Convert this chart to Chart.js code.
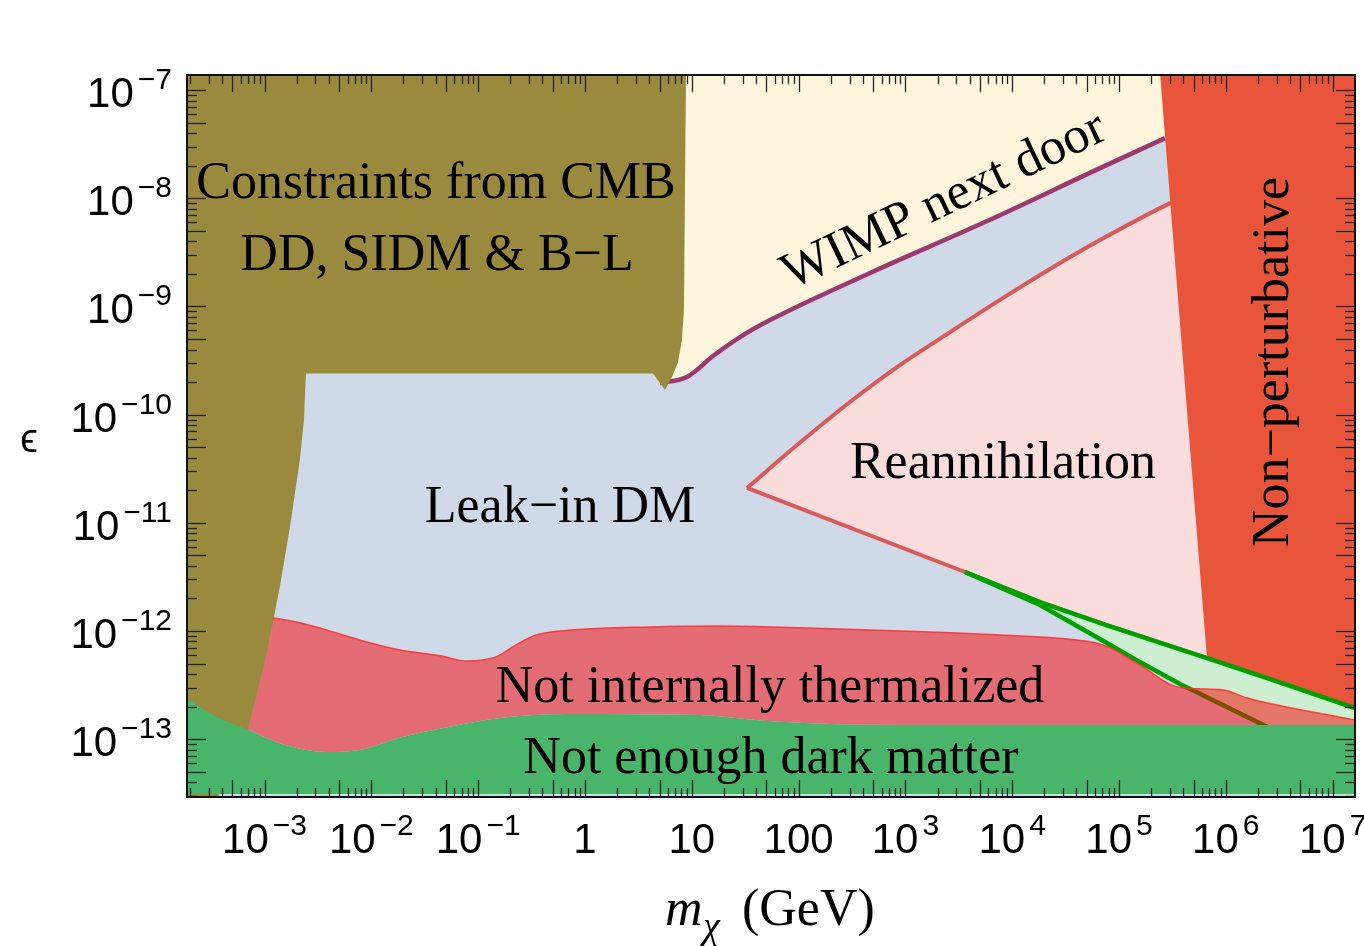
<!DOCTYPE html>
<html>
<head>
<meta charset="utf-8">
<title>Leak-in dark matter parameter space</title>
<script src="https://cdn.jsdelivr.net/npm/chart.js@4.4.1/dist/chart.umd.min.js"></script>
<style>
  html, body { margin: 0; padding: 0; background: #fff; }
  canvas { display: block; }
</style>
</head>
<body>
<canvas id="regionChart" width="1364" height="946"></canvas>
<script>
"use strict";

// axis range: m_chi in GeV, epsilon
const X_MIN = 1.88e-4;
const X_MAX = 1.62e7;
const Y_MIN = 2.92e-14;
const Y_MAX = 1.38e-7;

const xTickValues = [1e-3, 1e-2, 1e-1, 1, 10, 100, 1e3, 1e4, 1e5, 1e6, 1e7];
const xTickBase = ["10", "10", "10", "1", "10", "100", "10", "10", "10", "10", "10"];
const xTickExp = ["−3", "−2", "−1", "", "", "", "3", "4", "5", "6", "7"];

const yTickValues = [1e-13, 1e-12, 1e-11, 1e-10, 1e-9, 1e-8, 1e-7];
const yTickBase = ["10", "10", "10", "10", "10", "10", "10"];
const yTickExp = ["−13", "−12", "−11", "−10", "−9", "−8", "−7"];

// WIMP next door line
const wimpMass = [5.04, 9.02, 15.8, 28.3, 54.0, 467, 5560, 6.64e4, 2.7e5];
const wimpEps = [1.96e-10, 2.23e-10, 3.48e-10, 5.21e-10, 7.48e-10, 2.04e-9, 6.03e-9, 1.9e-8, 3.6e-8];
// where the line runs on under the CMB region (left) and the non-perturbative one (right)
const wimpHiddenLeftMass = [1.88e-4, 4.3];
const wimpHiddenLeftEps = [3.0e-10, 3.0e-10];
const wimpHiddenRightEps = 2.3e-7;

// constraints from CMB, DD, SIDM & B-L (lower / right edge of the region)
const cmbMass = [1.88e-4, 3.58e-4, 4.95e-4, 7.0e-4, 9.66e-4, 1.22e-3, 1.39e-3, 1.73e-3, 2.14e-3, 2.34e-3, 2.44e-3, 4.34, 5.61, 6.53, 7.43, 8.09, 8.45, 8.83];
const cmbEps = [2.74e-14, 2.74e-14, 5.78e-14, 1.22e-13, 4.37e-13, 1.32e-12, 2.55e-12, 9.14e-12, 3.8e-11, 8.91e-11, 2.4e-10, 2.4e-10, 1.69e-10, 2.23e-10, 3.06e-10, 4.89e-10, 9.27e-10, 1.44e-7];

// not enough dark matter (upper edge)
const dmMass = [1.88e-4, 3.44e-4, 7.0e-4, 1.55e-3, 3.84e-3, 7.82e-3, 1.85e-2, 5.45e-2, 0.16, 0.678, 11.9, 50.6, 197, 889, 1.62e7];
const dmEps = [2.36e-13, 1.64e-13, 1.22e-13, 8.83e-14, 7.62e-14, 7.94e-14, 1.03e-13, 1.3e-13, 1.57e-13, 1.71e-13, 1.67e-13, 1.47e-13, 1.38e-13, 1.35e-13, 1.35e-13];
const DM_FLOOR = 3.12e-14;

// not internally thermalized (upper edge)
const thermMass = [5.89e-4, 1.22e-3, 2.14e-3, 4.37e-3, 9.09e-3, 1.85e-2, 4.39e-2, 7.6e-2, 0.147, 0.226, 0.348, 0.751, 4.06, 18.4, 103, 889, 7690, 3.26e4, 6.64e4, 8.79e4, 1.57e5, 3.72e5, 9.42e5, 1.58e6, 1.62e7];
const thermEps = [1.41e-12, 1.32e-12, 1.19e-12, 9.79e-13, 7.91e-13, 6.67e-13, 5.9e-13, 5.28e-13, 5.75e-13, 7.45e-13, 9.2e-13, 1.02e-12, 1.09e-12, 1.11e-12, 1.07e-12, 1.0e-12, 9.18e-13, 8.43e-13, 7.59e-13, 6.8e-13, 4.85e-13, 3.0e-13, 2.85e-13, 2.4e-13, 1.5e-13];

// reannihilation: upper curve and lower line from the tip
const reannUpMass = [32.9, 110, 303, 889, 2618, 7690, 2.26e4, 6.64e4, 3.01e5, 1.62e7];
const reannUpEps = [2.1e-11, 5.82e-11, 1.31e-10, 2.87e-10, 5.79e-10, 1.15e-9, 2.22e-9, 4.11e-9, 9.03e-9, 5.28e-8];
const reannLowMass = [32.9, 3614];
const reannLowEps = [2.1e-11, 3.51e-12];

// the two green lines
const greenUpMass = [3614, 1.82e4, 7.72e4, 6.67e5, 2.77e6, 1.62e7];
const greenUpEps = [3.51e-12, 1.85e-12, 1.13e-12, 5.62e-13, 3.52e-13, 1.94e-13];
const greenLowMass = [3614, 1.82e4, 7.72e4, 1.57e5, 3.72e5, 2.43e6, 1.62e7];
const greenLowEps = [3.51e-12, 1.74e-12, 7.74e-13, 5.16e-13, 3.24e-13, 1.3e-13, 5.19e-14];

// non-perturbative (left edge, then follows the upper green line)
const nonPertMass = [2.42e5, 3.01e5, 3.97e5, 5.15e5, 6.67e5];
const nonPertEps = [1.44e-7, 9.62e-9, 3.2e-10, 1.31e-11, 5.62e-13];

function pts(xs, ys) {
  return xs.map(function (x, i) {
    return { x: x, y: ys[i] };
  });
}

function region(data, opts) {
  return Object.assign(
    {
      data: data,
      borderWidth: 0,
      borderColor: "transparent",
      backgroundColor: "transparent",
      fill: false,
      pointRadius: 0,
      tension: 0,
      clip: 0,
    },
    opts
  );
}

const wimpEdge = pts(
  wimpHiddenLeftMass.concat(wimpMass, [X_MAX]),
  wimpHiddenLeftEps.concat(wimpEps, [wimpHiddenRightEps])
);
const nonPertEdge = pts(nonPertMass, nonPertEps).concat(
  pts(greenUpMass, greenUpEps).filter((p) => p.x > nonPertMass[nonPertMass.length - 1])
);
const smooth = { cubicInterpolationMode: "monotone" };

// listed bottom -> top
const datasets = [
  region(wimpEdge, Object.assign({ fill: "end", backgroundColor: "#fef6dc" }, smooth)), // 0
  region(wimpEdge, Object.assign({ fill: "start", backgroundColor: "#cfd9e8" }, smooth)), // 1
  region(pts(reannUpMass, reannUpEps), Object.assign({ fill: 3, backgroundColor: "#f9dcdc", borderColor: "#d95a5a", borderWidth: 4 }, smooth)), // 2
  region(pts(reannLowMass, reannLowEps).concat(pts(greenUpMass, greenUpEps).slice(1)), { borderColor: "#d95a5a", borderWidth: 4 }), // 3
  region(pts(wimpMass, wimpEps), Object.assign({ borderColor: "#9a3a6f", borderWidth: 4.5 }, smooth)), // 4
  region(nonPertEdge, { fill: "end", backgroundColor: "#e8553a" }), // 5
  region(pts(greenUpMass, greenUpEps), { fill: 7, backgroundColor: "#cdeed0", borderColor: "#00a000", borderWidth: 4.5 }), // 6
  region(pts(greenLowMass, greenLowEps), { borderColor: "#00a000", borderWidth: 4.5 }), // 7
  region(pts(thermMass, thermEps), Object.assign({ fill: 10, backgroundColor: "rgba(250,0,0,0.5)", borderColor: "rgba(255,50,50,0.9)", borderWidth: 1.5 }, smooth)), // 8
  region(pts(cmbMass, cmbEps), { fill: "end", backgroundColor: "#9a8a3e" }), // 9
  region(pts(dmMass, dmEps), Object.assign({ fill: { value: DM_FLOOR }, backgroundColor: "#48b56b" }, smooth)), // 10
];
datasets.forEach(function (ds, i) {
  ds.order = 100 - i;
});

const TICK_FONT = '42px "Liberation Sans", Arial, sans-serif';
const EXP_FONT = '30px "Liberation Sans", Arial, sans-serif';
const SERIF = '"Liberation Serif", "Times New Roman", serif';

function tickLine(ctx, x1, y1, x2, y2) {
  ctx.beginPath();
  ctx.moveTo(x1, y1);
  ctx.lineTo(x2, y2);
  ctx.stroke();
}

function drawPower(ctx, base, exp, x, y, align) {
  ctx.font = TICK_FONT;
  const wb = ctx.measureText(base).width;
  ctx.font = EXP_FONT;
  const we = exp ? ctx.measureText(exp).width + 4 : 0;
  const total = wb + we;
  const left = align === "center" ? x - total / 2 : x - total;
  ctx.textAlign = "left";
  ctx.font = TICK_FONT;
  ctx.fillText(base, left, y);
  if (exp) {
    ctx.font = EXP_FONT;
    ctx.fillText(exp, left + wb + 4, y - 18);
  }
}

const decorPlugin = {
  id: "decor",
  afterDraw(chart) {
    const ctx = chart.ctx;
    const a = chart.chartArea;
    const xs = chart.scales.x;
    const ys = chart.scales.y;
    ctx.save();

    // inward ticks on all four sides
    ctx.strokeStyle = "#222";
    ctx.lineWidth = 1.3;
    for (let d = -4; d <= 7; d++) {
      for (let m = 1; m <= 9; m++) {
        const v = m * Math.pow(10, d);
        if (v < X_MIN || v > X_MAX) continue;
        const px = Math.round(xs.getPixelForValue(v)) + 0.5;
        const len = m === 1 || m === 5 ? 17 : 9;
        tickLine(ctx, px, a.bottom, px, a.bottom - len);
        tickLine(ctx, px, a.top, px, a.top + len);
      }
    }
    for (let d = -14; d <= -7; d++) {
      for (let m = 1; m <= 9; m++) {
        const v = m * Math.pow(10, d);
        if (v < Y_MIN || v > Y_MAX) continue;
        const py = Math.round(ys.getPixelForValue(v)) + 0.5;
        const len = m === 1 || m === 5 ? 19 : 10;
        tickLine(ctx, a.left, py, a.left + len, py);
        tickLine(ctx, a.right, py, a.right - len, py);
      }
    }

    // frame
    ctx.strokeStyle = "#111";
    ctx.lineWidth = 2;
    ctx.strokeRect(a.left, a.top, a.right - a.left, a.bottom - a.top);

    // tick labels
    ctx.fillStyle = "#000";
    ctx.textBaseline = "alphabetic";
    xTickValues.forEach(function (v, i) {
      drawPower(ctx, xTickBase[i], xTickExp[i], xs.getPixelForValue(v), 853, "center");
    });
    yTickValues.forEach(function (v, i) {
      drawPower(ctx, yTickBase[i], yTickExp[i], 172, ys.getPixelForValue(v) + 17, "right");
    });

    // axis titles
    ctx.textAlign = "center";
    ctx.font = '40px "Liberation Sans", "DejaVu Sans", sans-serif';
    ctx.fillText("ϵ", 29, 452);
    ctx.textAlign = "left";
    ctx.font = "italic 52px " + SERIF;
    ctx.fillText("m", 665, 925);
    ctx.font = "italic 38px " + SERIF;
    ctx.fillText("χ", 703, 938);
    ctx.font = "52px " + SERIF;
    ctx.fillText("(GeV)", 742, 925);

    // region labels
    ctx.textAlign = "center";
    ctx.font = "52px " + SERIF;
    ctx.fillText("Constraints from CMB", 436, 198);
    ctx.fillText("DD, SIDM & B−L", 437, 270);
    ctx.fillText("Leak−in DM", 560, 522);
    ctx.fillText("Reannihilation", 1003, 478);
    ctx.fillText("Not internally thermalized", 770, 702);
    ctx.fillText("Not enough dark matter", 771, 773);

    ctx.save();
    ctx.translate(1288, 362);
    ctx.rotate(-Math.PI / 2);
    ctx.fillText("Non−perturbative", 0, 0);
    ctx.restore();

    ctx.save();
    ctx.translate(950, 214);
    ctx.rotate((-25.5 * Math.PI) / 180);
    ctx.fillText("WIMP next door", 0, 0);
    ctx.restore();

    ctx.restore();
  },
};

new Chart(document.getElementById("regionChart").getContext("2d"), {
  type: "line",
  data: { datasets: datasets },
  options: {
    responsive: false,
    animation: false,
    events: [],
    layout: { padding: { left: 187, top: 75, right: 9, bottom: 149 } },
    scales: {
      x: { type: "logarithmic", min: X_MIN, max: X_MAX, display: false },
      y: { type: "logarithmic", min: Y_MIN, max: Y_MAX, display: false },
    },
    plugins: {
      legend: { display: false },
      tooltip: { enabled: false },
    },
  },
  plugins: [decorPlugin],
});
</script>
</body>
</html>
